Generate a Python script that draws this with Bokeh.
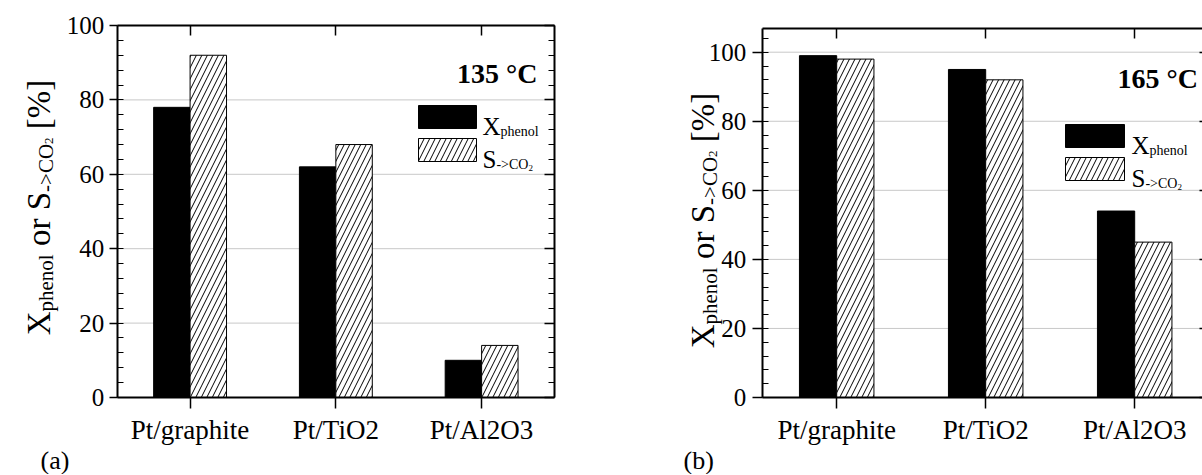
import math
from bokeh.plotting import figure
from bokeh.models import (ColumnDataSource, Range1d, LinearAxis, SingleIntervalTicker,
                          FixedTicker, Label, BoxAnnotation, CustomJSTickFormatter)
from bokeh.layouts import row
from bokeh.transform import dodge
from bokeh.embed import file_html
from bokeh.resources import INLINE

# ---------------- data ----------------
catalysts = ["Pt/graphite", "Pt/TiO2", "Pt/Al2O3"]
x_phenol_135 = [78, 62, 10]
s_co2_135 = [92, 68, 14]
x_phenol_165 = [99, 95, 54]
s_co2_165 = [98, 92, 45]
temperatures = ["135 °C", "165 °C"]
panel_tags = ["(a)", "(b)"]
y_major_step = 20
grid_a = [20, 40, 60, 80]
grid_b = [20, 40, 60, 80, 100]

FONT = "Liberation Serif"
H = 474

CW = {' ': .25, '[': .333, ']': .333, '%': .833, '-': .333, '>': .564, 'C': .667,
      'O': .722, '2': .5, 'X': .722, 'S': .556, 'p': .5, 'h': .5, 'e': .444,
      'n': .5, 'o': .5, 'l': .278, 'r': .333}


def tw(s, size):
    return sum(CW.get(c, .5) for c in s) * size


def rich(p, x, y, pieces, vertical=False):
    pos = 0.0
    for txt, size, shift in pieces:
        lead = len(txt) - len(txt.lstrip(' '))
        core = txt.strip(' ')
        off = pos + tw(' ' * lead, size)
        if core:
            if vertical:
                lx, ly, ang = x + shift, y + off, math.pi / 2
            else:
                lx, ly, ang = x + off, y - shift, 0
            p.add_layout(Label(x=lx, y=ly, x_units="screen", y_units="screen", text=core,
                               angle=ang, text_font=FONT, text_font_size=f"{size}px",
                               text_align="left", text_baseline="alphabetic",
                               text_color="black"))
        pos += tw(txt, size)
    return pos


YLABEL = [("X", 33, 0), ("phenol", 21, 7), (" or ", 33, 0), ("S", 33, 0),
          ("->CO", 21, 7), ("2", 13, 10), (" [%]", 33, 0)]
LEG_X = [("X", 25, 0), ("phenol", 14, 5)]
LEG_S = [("S", 25, 0), ("->CO", 14, 5), ("2", 9, 8)]


def empty():
    return CustomJSTickFormatter(code="return ''")


def panel(xv, sv, grid, temp, tag, c):
    n = len(catalysts)
    xs = list(range(1, n + 1))
    x_lo, x_hi = 0.5, n + 0.5
    x0 = c["x0"]
    W = c["width"]
    sxu = (c["px_hi"] - c["px_lo"]) / (x_hi - x_lo)
    syu = (c["py0"] - c["py100"]) / 100.0
    xr = Range1d(x_lo - (c["px_lo"] - x0) / sxu, x_lo + (x0 + W - c["px_lo"]) / sxu)
    yr = Range1d(-(H - c["py0"]) / syu, c["py0"] / syu)
    ytop = (c["py0"] - c["ptop"]) / syu

    p = figure(width=W, height=H, output_backend="svg", toolbar_location=None,
               x_range=xr, y_range=yr, x_axis_location=None, y_axis_location=None,
               min_border=0, min_border_left=0, min_border_right=0,
               min_border_top=0, min_border_bottom=0)
    p.outline_line_color = None
    p.background_fill_color = "white"
    p.border_fill_color = "white"
    p.xgrid.visible = False
    p.ygrid.visible = False

    gsrc = ColumnDataSource(dict(g=grid, a=[x_lo] * len(grid), b=[x_hi] * len(grid)))
    p.segment(x0="a", x1="b", y0="g", y1="g", source=gsrc, line_color="#c8c8c8", line_width=1)

    src = ColumnDataSource(dict(x=xs, xv=xv, sv=sv))
    p.vbar(x=dodge("x", -0.125), top="xv", width=0.25, source=src,
           fill_color="black", line_color="black", line_width=1)
    p.vbar(x=dodge("x", 0.125), top="sv", width=0.25, source=src,
           fill_color="white", line_color="black", line_width=1,
           hatch_pattern="/", hatch_color="black", hatch_scale=11, hatch_weight=1)

    common = dict(axis_line_width=2, axis_line_color="black",
                  major_tick_line_width=1.5, minor_tick_line_width=1.2,
                  major_tick_line_color="black", minor_tick_line_color="black")

    left = LinearAxis(fixed_location=x_lo, bounds=(0, ytop),
                      ticker=SingleIntervalTicker(interval=y_major_step, num_minor_ticks=5),
                      major_tick_in=0, major_tick_out=c["ltick"], minor_tick_in=6,
                      minor_tick_out=0, major_label_standoff=c["lstand"],
                      major_label_text_font=FONT, major_label_text_font_size="25px",
                      major_label_text_color="black", **common)
    p.add_layout(left, "left")

    right = LinearAxis(fixed_location=x_hi, bounds=(0, ytop),
                       ticker=SingleIntervalTicker(interval=y_major_step, num_minor_ticks=5),
                       formatter=empty(), major_tick_in=10, major_tick_out=0,
                       minor_tick_in=6, minor_tick_out=0, major_label_standoff=0,
                       major_label_text_font_size="1px", **common)
    p.add_layout(right, "right")

    bottom = LinearAxis(fixed_location=0, bounds=(x_lo, x_hi), ticker=FixedTicker(ticks=xs),
                        major_label_overrides={i: s for i, s in zip(xs, catalysts)},
                        major_tick_in=0, major_tick_out=11, minor_tick_in=0, minor_tick_out=0,
                        major_label_standoff=6, major_label_text_font=FONT,
                        major_label_text_font_size="27px", major_label_text_color="black",
                        **common)
    p.add_layout(bottom, "below")

    top = LinearAxis(fixed_location=ytop, bounds=(x_lo, x_hi), ticker=FixedTicker(ticks=xs),
                     formatter=empty(), major_tick_in=10, major_tick_out=0,
                     minor_tick_in=0, minor_tick_out=0, major_label_standoff=0,
                     major_label_text_font_size="1px", **common)
    p.add_layout(top, "above")

    def sc(px, py):
        return px - x0, H - py

    # y-axis title
    L = sum(tw(t, s) for t, s, _ in YLABEL)
    bx, cy = sc(c["ylab_x"], c["ylab_cy"])
    rich(p, bx, cy - L / 2, YLABEL, vertical=True)

    # legend swatches
    (l0, l1), (t1, b1), (t2, b2) = c["leg_x"], c["leg_y1"], c["leg_y2"]
    L0, _ = sc(l0, 0)
    L1, _ = sc(l1, 0)
    for (tp, bt), fill, hatch in (((t1, b1), "black", " "), ((t2, b2), "white", "/")):
        _, T = sc(0, tp)
        _, B = sc(0, bt)
        p.add_layout(BoxAnnotation(left=L0, right=L1, bottom=B, top=T,
                                   left_units="screen", right_units="screen",
                                   bottom_units="screen", top_units="screen",
                                   fill_color=fill, fill_alpha=1, line_color="black",
                                   line_alpha=1, line_width=1, hatch_pattern=hatch,
                                   hatch_color="black", hatch_scale=11, hatch_weight=1,
                                   hatch_alpha=1))
    tx, ty1 = sc(c["leg_tx"], c["leg_base"][0])
    _, ty2 = sc(0, c["leg_base"][1])
    rich(p, tx, ty1, LEG_X)
    rich(p, tx, ty2, LEG_S)

    # temperature
    tx, ty = sc(*c["temp"])
    p.add_layout(Label(x=tx, y=ty, x_units="screen", y_units="screen",
                       text=temp, text_font=FONT, text_font_size="28px",
                       text_font_style="bold", text_align=c["temp_align"],
                       text_baseline="alphabetic", text_color="black"))
    # panel tag
    tx, ty = sc(*c["tag"])
    p.add_layout(Label(x=tx, y=ty, x_units="screen", y_units="screen",
                       text=tag, text_font=FONT, text_font_size="26px",
                       text_align="left", text_baseline="alphabetic", text_color="black"))
    return p


cfg_a = dict(x0=0, width=600, px_lo=116.7, px_hi=554.0, py0=397.0, py100=25.0, ptop=25.0,
             ltick=8, lstand=5,
             ylab_x=38, ylab_cy=207,
             leg_x=(418, 476), leg_y1=(105, 128), leg_y2=(138, 161), leg_tx=482,
             leg_base=(126, 159),
             temp=(537, 73), temp_align="right", tag=(40, 460))
cfg_b = dict(x0=600, width=602, px_lo=761.7, px_hi=1208.7, py0=397.0, py100=51.7, ptop=28.0,
             ltick=10, lstand=6,
             ylab_x=702, ylab_cy=220,
             leg_x=(1065, 1124), leg_y1=(124, 147), leg_y2=(157, 180), leg_tx=1131,
             leg_base=(145, 178),
             temp=(1117, 78), temp_align="left", tag=(683, 460))

pa = panel(x_phenol_135, s_co2_135, grid_a, temperatures[0], panel_tags[0], cfg_a)
pb = panel(x_phenol_165, s_co2_165, grid_b, temperatures[1], panel_tags[1], cfg_b)

layout = row(pa, pb)
open("out.html", "w").write(file_html(layout, INLINE))
